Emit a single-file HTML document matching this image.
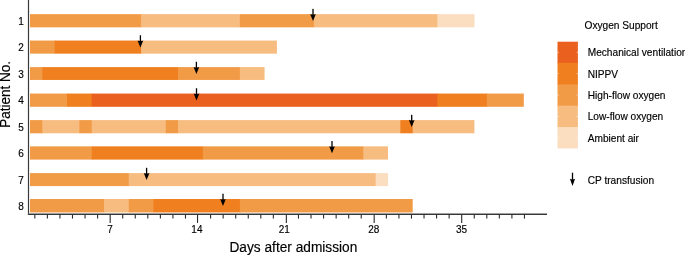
<!DOCTYPE html><html><head><meta charset="utf-8"><style>html,body{margin:0;padding:0;background:#fff;width:685px;height:255px;overflow:hidden}svg{display:block}text{font-family:"Liberation Sans",Arial,sans-serif;fill:#000;stroke:#000;stroke-width:0.15px}</style></head><body>
<svg width="685" height="255" viewBox="0 0 685 255">
<rect width="685" height="255" fill="#fff"/>
<rect x="30.00" y="14.15" width="111.70" height="13.20" fill="#F29B47"/>
<rect x="141.11" y="14.15" width="99.36" height="13.20" fill="#F7BC80"/>
<rect x="239.87" y="14.15" width="74.67" height="13.20" fill="#F29B47"/>
<rect x="313.94" y="14.15" width="124.05" height="13.20" fill="#F7BC80"/>
<rect x="437.39" y="14.15" width="37.04" height="13.20" fill="#FBDDBF"/>
<text transform="translate(23.90,24.95) scale(1,1.04)" font-size="10" text-anchor="end">1</text>
<rect x="30.00" y="40.55" width="25.29" height="13.10" fill="#F29B47"/>
<rect x="54.69" y="40.55" width="87.02" height="13.10" fill="#EF7F1F"/>
<rect x="141.11" y="40.55" width="135.80" height="13.10" fill="#F7BC80"/>
<text transform="translate(23.90,51.30) scale(1,1.04)" font-size="10" text-anchor="end">2</text>
<rect x="30.00" y="67.10" width="12.95" height="12.85" fill="#F29B47"/>
<rect x="42.34" y="67.10" width="136.40" height="12.85" fill="#EF7F1F"/>
<rect x="178.14" y="67.10" width="62.33" height="12.85" fill="#F29B47"/>
<rect x="239.87" y="67.10" width="24.69" height="12.85" fill="#F7BC80"/>
<text transform="translate(23.90,77.73) scale(1,1.04)" font-size="10" text-anchor="end">3</text>
<rect x="30.00" y="93.55" width="37.64" height="13.25" fill="#F29B47"/>
<rect x="67.03" y="93.55" width="25.29" height="13.25" fill="#EF7F1F"/>
<rect x="91.72" y="93.55" width="346.26" height="13.25" fill="#EA601F"/>
<rect x="437.39" y="93.55" width="49.98" height="13.25" fill="#EF7F1F"/>
<rect x="486.77" y="93.55" width="37.04" height="13.25" fill="#F29B47"/>
<text transform="translate(23.90,104.38) scale(1,1.04)" font-size="10" text-anchor="end">4</text>
<rect x="30.00" y="120.10" width="12.95" height="13.20" fill="#F29B47"/>
<rect x="42.34" y="120.10" width="37.64" height="13.20" fill="#F7BC80"/>
<rect x="79.38" y="120.10" width="12.95" height="13.20" fill="#F29B47"/>
<rect x="91.72" y="120.10" width="74.67" height="13.20" fill="#F7BC80"/>
<rect x="165.80" y="120.10" width="12.95" height="13.20" fill="#F29B47"/>
<rect x="178.14" y="120.10" width="222.81" height="13.20" fill="#F7BC80"/>
<rect x="400.35" y="120.10" width="12.95" height="13.20" fill="#EF7F1F"/>
<rect x="412.69" y="120.10" width="61.73" height="13.20" fill="#F7BC80"/>
<text transform="translate(23.90,130.90) scale(1,1.04)" font-size="10" text-anchor="end">5</text>
<rect x="30.00" y="146.35" width="62.33" height="13.25" fill="#F29B47"/>
<rect x="91.72" y="146.35" width="111.70" height="13.25" fill="#EF7F1F"/>
<rect x="202.83" y="146.35" width="161.09" height="13.25" fill="#F29B47"/>
<rect x="363.31" y="146.35" width="24.69" height="13.25" fill="#F7BC80"/>
<text transform="translate(23.90,157.17) scale(1,1.04)" font-size="10" text-anchor="end">6</text>
<rect x="30.00" y="173.10" width="99.36" height="13.00" fill="#F29B47"/>
<rect x="128.76" y="173.10" width="247.50" height="13.00" fill="#F7BC80"/>
<rect x="375.66" y="173.10" width="12.35" height="13.00" fill="#FBDDBF"/>
<text transform="translate(23.90,183.80) scale(1,1.04)" font-size="10" text-anchor="end">7</text>
<rect x="30.00" y="199.00" width="74.67" height="13.45" fill="#F29B47"/>
<rect x="104.07" y="199.00" width="25.29" height="13.45" fill="#F7BC80"/>
<rect x="128.76" y="199.00" width="25.29" height="13.45" fill="#F29B47"/>
<rect x="153.45" y="199.00" width="87.02" height="13.45" fill="#EF7F1F"/>
<rect x="239.87" y="199.00" width="172.83" height="13.45" fill="#F29B47"/>
<text transform="translate(23.90,209.92) scale(1,1.04)" font-size="10" text-anchor="end">8</text>
<rect x="312.35" y="8.85" width="1.30" height="6.70" fill="#000"/><path d="M310.15,14.05 Q313.00,15.25 315.85,14.05 L313.00,21.05 Z" fill="#000"/>
<rect x="139.75" y="35.25" width="1.30" height="6.70" fill="#000"/><path d="M137.55,40.45 Q140.40,41.65 143.25,40.45 L140.40,47.45 Z" fill="#000"/>
<rect x="195.75" y="61.80" width="1.30" height="6.70" fill="#000"/><path d="M193.55,67.00 Q196.40,68.20 199.25,67.00 L196.40,74.00 Z" fill="#000"/>
<rect x="195.85" y="88.25" width="1.30" height="6.70" fill="#000"/><path d="M193.65,93.45 Q196.50,94.65 199.35,93.45 L196.50,100.45 Z" fill="#000"/>
<rect x="411.05" y="114.80" width="1.30" height="6.70" fill="#000"/><path d="M408.85,120.00 Q411.70,121.20 414.55,120.00 L411.70,127.00 Z" fill="#000"/>
<rect x="331.35" y="141.05" width="1.30" height="6.70" fill="#000"/><path d="M329.15,146.25 Q332.00,147.45 334.85,146.25 L332.00,153.25 Z" fill="#000"/>
<rect x="145.95" y="167.80" width="1.30" height="6.70" fill="#000"/><path d="M143.75,173.00 Q146.60,174.20 149.45,173.00 L146.60,180.00 Z" fill="#000"/>
<rect x="222.35" y="193.70" width="1.30" height="6.70" fill="#000"/><path d="M220.15,198.90 Q223.00,200.10 225.85,198.90 L223.00,205.90 Z" fill="#000"/>
<line x1="28.5" y1="0" x2="28.5" y2="214.9" stroke="#3a3a3a" stroke-width="1.2"/>
<line x1="27.9" y1="213.5" x2="547" y2="213.5" stroke="#9a9a9a" stroke-width="0.6"/>
<line x1="27.9" y1="214.35" x2="547" y2="214.35" stroke="#383838" stroke-width="1.1"/>
<line x1="34.83" y1="214.4" x2="34.83" y2="218.6" stroke="#2a2a2a" stroke-width="1.1"/>
<line x1="47.38" y1="214.4" x2="47.38" y2="218.6" stroke="#2a2a2a" stroke-width="1.1"/>
<line x1="59.94" y1="214.4" x2="59.94" y2="218.6" stroke="#2a2a2a" stroke-width="1.1"/>
<line x1="72.49" y1="214.4" x2="72.49" y2="218.6" stroke="#2a2a2a" stroke-width="1.1"/>
<line x1="85.05" y1="214.4" x2="85.05" y2="218.6" stroke="#2a2a2a" stroke-width="1.1"/>
<line x1="97.60" y1="214.4" x2="97.60" y2="218.6" stroke="#2a2a2a" stroke-width="1.1"/>
<line x1="110.16" y1="214.4" x2="110.16" y2="222.9" stroke="#2a2a2a" stroke-width="1.1"/>
<text transform="translate(110.10,233.20) scale(1,1.04)" font-size="10" text-anchor="middle">7</text>
<line x1="122.71" y1="214.4" x2="122.71" y2="218.6" stroke="#2a2a2a" stroke-width="1.1"/>
<line x1="135.27" y1="214.4" x2="135.27" y2="218.6" stroke="#2a2a2a" stroke-width="1.1"/>
<line x1="147.82" y1="214.4" x2="147.82" y2="218.6" stroke="#2a2a2a" stroke-width="1.1"/>
<line x1="160.38" y1="214.4" x2="160.38" y2="218.6" stroke="#2a2a2a" stroke-width="1.1"/>
<line x1="172.93" y1="214.4" x2="172.93" y2="218.6" stroke="#2a2a2a" stroke-width="1.1"/>
<line x1="185.49" y1="214.4" x2="185.49" y2="218.6" stroke="#2a2a2a" stroke-width="1.1"/>
<line x1="197.53" y1="214.4" x2="197.53" y2="222.9" stroke="#2a2a2a" stroke-width="1.1"/>
<text transform="translate(196.90,233.20) scale(1,1.04)" font-size="10" text-anchor="middle">14</text>
<line x1="210.59" y1="214.4" x2="210.59" y2="218.6" stroke="#2a2a2a" stroke-width="1.1"/>
<line x1="223.15" y1="214.4" x2="223.15" y2="218.6" stroke="#2a2a2a" stroke-width="1.1"/>
<line x1="235.71" y1="214.4" x2="235.71" y2="218.6" stroke="#2a2a2a" stroke-width="1.1"/>
<line x1="248.26" y1="214.4" x2="248.26" y2="218.6" stroke="#2a2a2a" stroke-width="1.1"/>
<line x1="260.81" y1="214.4" x2="260.81" y2="218.6" stroke="#2a2a2a" stroke-width="1.1"/>
<line x1="273.37" y1="214.4" x2="273.37" y2="218.6" stroke="#2a2a2a" stroke-width="1.1"/>
<line x1="286.34" y1="214.4" x2="286.34" y2="222.9" stroke="#2a2a2a" stroke-width="1.1"/>
<text transform="translate(284.30,233.20) scale(1,1.04)" font-size="10" text-anchor="middle">21</text>
<line x1="298.48" y1="214.4" x2="298.48" y2="218.6" stroke="#2a2a2a" stroke-width="1.1"/>
<line x1="311.03" y1="214.4" x2="311.03" y2="218.6" stroke="#2a2a2a" stroke-width="1.1"/>
<line x1="323.59" y1="214.4" x2="323.59" y2="218.6" stroke="#2a2a2a" stroke-width="1.1"/>
<line x1="336.14" y1="214.4" x2="336.14" y2="218.6" stroke="#2a2a2a" stroke-width="1.1"/>
<line x1="348.70" y1="214.4" x2="348.70" y2="218.6" stroke="#2a2a2a" stroke-width="1.1"/>
<line x1="361.25" y1="214.4" x2="361.25" y2="218.6" stroke="#2a2a2a" stroke-width="1.1"/>
<line x1="374.16" y1="214.4" x2="374.16" y2="222.9" stroke="#2a2a2a" stroke-width="1.1"/>
<text transform="translate(373.80,233.20) scale(1,1.04)" font-size="10" text-anchor="middle">28</text>
<line x1="386.36" y1="214.4" x2="386.36" y2="218.6" stroke="#2a2a2a" stroke-width="1.1"/>
<line x1="398.92" y1="214.4" x2="398.92" y2="218.6" stroke="#2a2a2a" stroke-width="1.1"/>
<line x1="411.47" y1="214.4" x2="411.47" y2="218.6" stroke="#2a2a2a" stroke-width="1.1"/>
<line x1="424.03" y1="214.4" x2="424.03" y2="218.6" stroke="#2a2a2a" stroke-width="1.1"/>
<line x1="436.58" y1="214.4" x2="436.58" y2="218.6" stroke="#2a2a2a" stroke-width="1.1"/>
<line x1="449.14" y1="214.4" x2="449.14" y2="218.6" stroke="#2a2a2a" stroke-width="1.1"/>
<line x1="461.70" y1="214.4" x2="461.70" y2="222.9" stroke="#2a2a2a" stroke-width="1.1"/>
<text transform="translate(461.60,233.20) scale(1,1.04)" font-size="10" text-anchor="middle">35</text>
<line x1="474.25" y1="214.4" x2="474.25" y2="218.6" stroke="#2a2a2a" stroke-width="1.1"/>
<line x1="486.80" y1="214.4" x2="486.80" y2="218.6" stroke="#2a2a2a" stroke-width="1.1"/>
<line x1="499.36" y1="214.4" x2="499.36" y2="218.6" stroke="#2a2a2a" stroke-width="1.1"/>
<line x1="511.91" y1="214.4" x2="511.91" y2="218.6" stroke="#2a2a2a" stroke-width="1.1"/>
<line x1="524.47" y1="214.4" x2="524.47" y2="218.6" stroke="#2a2a2a" stroke-width="1.1"/>
<text transform="translate(293.40,252.10) scale(1,1.04)" font-size="13.7" text-anchor="middle">Days after admission</text>
<text transform="translate(10.40,94.50) rotate(-90) scale(1,1.04)" font-size="13.5" text-anchor="middle">Patient No.</text>
<text transform="translate(584.50,29.40) scale(1,1.04)" font-size="10.15">Oxygen Support</text>
<rect x="557.5" y="41.70" width="20.4" height="21.80" fill="#EA601F"/>
<rect x="557.5" y="51.90" width="1.2" height="0.8" fill="#fff" opacity="0.8"/>
<rect x="576.7" y="51.90" width="1.2" height="0.8" fill="#fff" opacity="0.8"/>
<text transform="translate(587.70,56.30) scale(1,1.04)" font-size="10.15">Mechanical ventilation</text>
<rect x="557.5" y="62.90" width="20.4" height="22.10" fill="#EF7F1F"/>
<rect x="557.5" y="73.25" width="1.2" height="0.8" fill="#fff" opacity="0.8"/>
<rect x="576.7" y="73.25" width="1.2" height="0.8" fill="#fff" opacity="0.8"/>
<text transform="translate(587.70,77.65) scale(1,1.04)" font-size="10.15">NIPPV</text>
<rect x="557.5" y="84.40" width="20.4" height="21.90" fill="#F29B47"/>
<rect x="557.5" y="94.65" width="1.2" height="0.8" fill="#fff" opacity="0.8"/>
<rect x="576.7" y="94.65" width="1.2" height="0.8" fill="#fff" opacity="0.8"/>
<text transform="translate(587.70,99.05) scale(1,1.04)" font-size="10.15">High-flow oxygen</text>
<rect x="557.5" y="105.70" width="20.4" height="22.00" fill="#F7BC80"/>
<rect x="557.5" y="116.00" width="1.2" height="0.8" fill="#fff" opacity="0.8"/>
<rect x="576.7" y="116.00" width="1.2" height="0.8" fill="#fff" opacity="0.8"/>
<text transform="translate(587.70,120.40) scale(1,1.04)" font-size="10.15">Low-flow oxygen</text>
<rect x="557.5" y="127.10" width="20.4" height="21.30" fill="#FBDDBF"/>
<rect x="557.5" y="137.35" width="1.2" height="0.8" fill="#fff" opacity="0.8"/>
<rect x="576.7" y="137.35" width="1.2" height="0.8" fill="#fff" opacity="0.8"/>
<text transform="translate(587.70,141.75) scale(1,1.04)" font-size="10.15">Ambient air</text>
<rect x="571.85" y="172.70" width="1.30" height="7.60" fill="#000"/><path d="M569.90,178.80 Q572.50,180.00 575.10,178.80 L572.50,186.10 Z" fill="#000"/>
<text transform="translate(587.70,183.80) scale(1,1.04)" font-size="10.15">CP transfusion</text>
</svg></body></html>
